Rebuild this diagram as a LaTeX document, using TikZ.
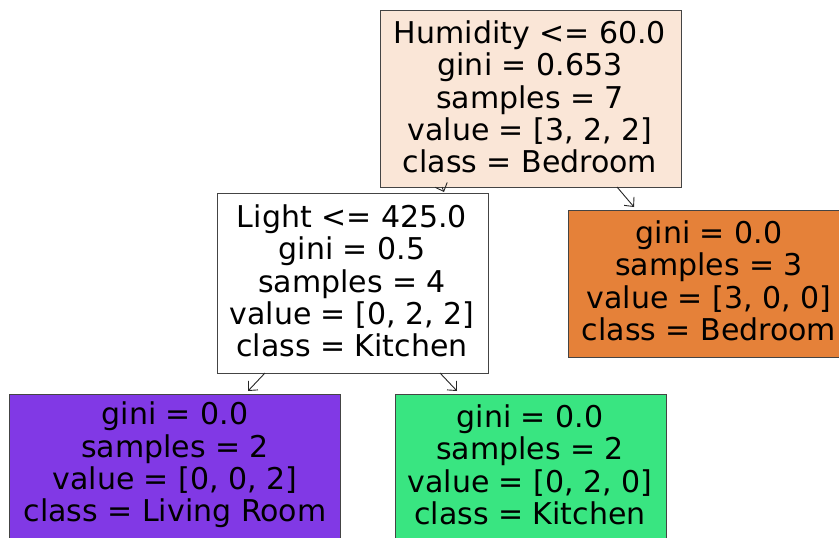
\documentclass[tikz,border=0pt]{standalone}
\usepackage{fontspec}
\setmainfont{DejaVu Sans}
\usetikzlibrary{arrows.meta}
\definecolor{rootc}{HTML}{FAE6D7}
\definecolor{bedc}{HTML}{E58139}
\definecolor{livc}{HTML}{8139E5}
\definecolor{kitc}{HTML}{39E581}
\definecolor{edgec}{HTML}{444444}
\tikzset{
  box/.style={draw=edgec, line width=1pt, inner sep=0pt, anchor=north west},
  txt/.style={align=center, inner sep=0pt, font=\fontsize{30}{32.4}\selectfont},
  conn/.style={draw=black!85, line width=0.9pt, -{Straight Barb[length=7pt,width=13pt]}}
}
\begin{document}
\begin{tikzpicture}[x=1pt,y=-1pt]
\useasboundingbox (0,0) rectangle (839,538);
\fill[white] (0,0) rectangle (839,538);
\begin{scope}
\clip (0,0) rectangle (839,538);
% boxes
\node[box, fill=rootc, minimum width=301pt, minimum height=177pt] (rootb) at (380,10) {};
\node[box, fill=white, minimum width=271pt, minimum height=180pt] (lightb) at (217,193) {};
\node[box, fill=bedc, minimum width=285pt, minimum height=147pt] (rightb) at (568,210) {};
\node[box, fill=livc, minimum width=331pt, minimum height=170pt] (leftb) at (9,394) {};
\node[box, fill=kitc, minimum width=271pt, minimum height=170pt] (midb) at (395,394) {};
% texts
\node[txt] (roott) at (530,97) {Humidity <= 60.0\\gini = 0.653\\samples = 7\\value = [3, 2, 2]\\class = Bedroom};
\node[txt] (lightt) at (352,281) {Light <= 425.0\\gini = 0.5\\samples = 4\\value = [0, 2, 2]\\class = Kitchen};
\node[txt] (rightt) at (709,281) {gini = 0.0\\samples = 3\\value = [3, 0, 0]\\class = Bedroom};
\node[txt] (leftt) at (175,465) {gini = 0.0\\samples = 2\\value = [0, 0, 2]\\class = Living Room};
\node[txt] (midt) at (530,465) {gini = 0.0\\samples = 2\\value = [0, 2, 0]\\class = Kitchen};
% connectors
\coordinate (a1) at (442,187);
\coordinate (a2) at (444,192);
\coordinate (b1) at (617,187);
\coordinate (b2) at (634,207);
\coordinate (c1) at (265,373);
\coordinate (c2) at (248,391);
\coordinate (d1) at (440,373);
\coordinate (d2) at (457,391);
\draw[conn] (a1) -- (a2);
\draw[conn] (b1) -- (b2);
\draw[conn] (c1) -- (c2);
\draw[conn] (d1) -- (d2);
\end{scope}
\end{tikzpicture}
\end{document}
